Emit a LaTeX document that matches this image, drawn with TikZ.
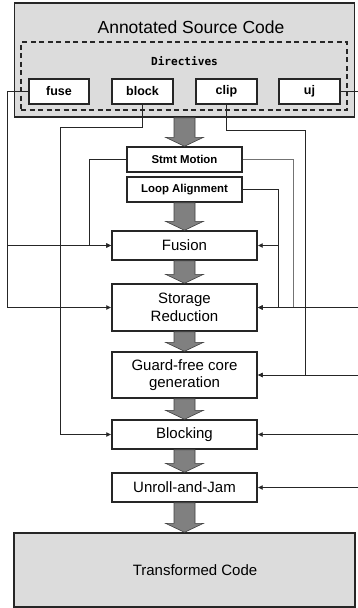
\documentclass[tikz,border=0pt]{standalone}
\usepackage{fontspec}
\setmainfont{Liberation Sans}
\newfontfamily\dirfont{DejaVu Sans Mono}
\usetikzlibrary{calc,arrows.meta}

\definecolor{codegray}{HTML}{DCDCDC}
\definecolor{arrowgray}{HTML}{808080}

\tikzset{
  codebox/.style={draw=black!85, line width=1.4pt, fill=codegray, inner sep=0pt},
  passbox/.style={draw=black!85, line width=1.4pt, fill=white, inner sep=0pt,
    minimum width=145pt, font=\fontsize{15}{17.5}\selectfont, align=center},
  smallbox/.style={draw=black!85, line width=1.4pt, fill=white, inner sep=0pt,
    minimum width=115pt, minimum height=25pt, font=\fontsize{11.4}{13}\selectfont\bfseries},
  dirbox/.style={draw=black!85, line width=1.4pt, fill=white, inner sep=0pt,
    minimum width=61pt, minimum height=25pt, font=\fontsize{12.5}{14}\selectfont\bfseries},
  flow/.style={draw=black!85, line width=0.8pt, -{Latex[length=5pt,width=5pt]}},
  feed/.style={draw=black!55, line width=0.8pt, -{Latex[length=5pt,width=5pt]}},
}

% fat grey arrow from the bottom of one box to the top of the next
\newcommand{\passarrow}[2]{%
  \path let \p1=(#1.south), \p2=(#2.north) in
    [draw=black!75, line width=0.6pt, fill=arrowgray]
    (\x1-10.5pt,\y1) -- (\x1+10.5pt,\y1) -- (\x1+10.5pt,\y2+9pt)
    -- (\x1+19pt,\y2+9pt) -- (\x1,\y2) -- (\x1-19pt,\y2+9pt)
    -- (\x1-10.5pt,\y2+9pt) -- cycle;}

\begin{document}
\begin{tikzpicture}[x=1pt,y=-1pt]
\useasboundingbox (0,0) rectangle (358,608);

% source side
\node[codebox, minimum width=340pt, minimum height=114pt] (src) at (184.5,60) {};
\node[font=\fontsize{17.5}{20}\selectfont] (srctitle) at (191,27) {Annotated Source Code};
\node[draw=black!85, line width=1.2pt, dash pattern=on 5pt off 3.5pt,
  minimum width=326pt, minimum height=68pt] (dirs) at (184,76) {};
\node[font=\dirfont\bfseries\fontsize{11.1}{13}\selectfont] (dirtitle) at (184.5,61) {Directives};
\node[dirbox, minimum width=60pt] (fuse) at (59,91.5) {fuse};
\node[dirbox] (block) at (142.5,91.5) {block};
\node[dirbox] (clip) at (226.5,91.5) {clip};
\node[dirbox] (uj) at (309.5,91.5) {uj};

% passes
\node[smallbox] (stmt) at (184.5,159.5) {Stmt Motion};
\node[smallbox] (loop) at (184.5,189.5) {Loop Alignment};
\node[passbox, minimum height=29pt] (fusion) at (184.5,245.5) {Fusion};
\node[passbox, minimum height=47pt] (storage) at (184.5,307.5) {Storage\\Reduction};
\node[passbox, minimum height=46pt] (guard) at (184.5,375) {Guard-free core\\generation};
\node[passbox, minimum height=29pt] (blocking) at (184.5,434.5) {Blocking};
\node[passbox, minimum height=29pt] (unroll) at (184.5,487.5) {Unroll-and-Jam};
\node[codebox, minimum width=341pt, minimum height=74pt] (trans) at (184.5,570) {};
\node[font=\fontsize{15}{17.5}\selectfont] (transtitle) at (195,570) {Transformed Code};

\passarrow{src}{stmt}
\passarrow{loop}{fusion}
\passarrow{fusion}{storage}
\passarrow{storage}{guard}
\passarrow{guard}{blocking}
\passarrow{blocking}{unroll}
\passarrow{unroll}{trans}

% bus lines
\coordinate (fusebus) at (7,0);
\coordinate (blockbus) at (60,127);
\coordinate (stmtlbus) at (89,0);
\coordinate (loopbus) at (278,0);
\coordinate (stmtrbus) at (293,0);
\coordinate (clipbus) at (305,130);
\coordinate (ujbus) at (362,0);

\draw[flow] (fuse.west) -| (fusebus |- storage.west) -- (storage.west);
\draw[flow] (fusebus |- fusion.west) -- (fusion.west);
\draw[flow] (block.south) |- (blockbus) |- (blocking.west);
\draw[flow] (stmt.west) -| (stmtlbus |- fusion.west) -- (fusion.west);
\draw[flow] (clip.south) |- (clipbus) |- (guard.east);
\draw[feed] (stmt.east) -| (stmtrbus |- storage.east) -- (storage.east);
\draw[flow] (loop.east) -| (loopbus |- storage.east) -- (storage.east);
\draw[flow] (loopbus |- fusion.east) -- (fusion.east);
\draw[flow] (uj.east) -| (ujbus |- unroll.east) -- (unroll.east);
\draw[flow] (ujbus |- storage.east) -- (storage.east);
\draw[flow] (ujbus |- guard.east) -- (guard.east);
\draw[flow] (ujbus |- blocking.east) -- (blocking.east);
\end{tikzpicture}
\end{document}
